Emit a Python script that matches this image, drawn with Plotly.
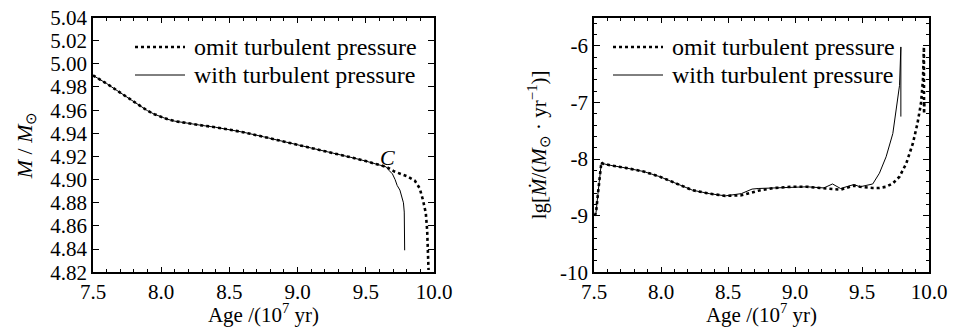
import plotly.graph_objects as go

# ---- Left panel: stellar mass vs age ----
age_omit_m = [7.50, 7.56, 7.60, 7.65, 7.70, 7.75, 7.80, 7.90, 7.95, 8.00, 8.05, 8.10, 8.20, 8.30, 8.40, 8.50,
              8.60, 8.75, 8.90, 9.00, 9.10, 9.25, 9.40, 9.50, 9.60, 9.65, 9.71, 9.80, 9.86,
              9.895, 9.92, 9.94, 9.95, 9.956, 9.958, 9.96]
mass_omit = [4.990, 4.986, 4.983, 4.979, 4.975, 4.971, 4.967, 4.9595, 4.9565, 4.9540, 4.9520, 4.9505, 4.9485,
             4.9468, 4.9452, 4.943,
             4.941, 4.937, 4.933, 4.930, 4.927, 4.923, 4.919, 4.916, 4.913, 4.911, 4.907, 4.903, 4.899,
             4.8925, 4.882, 4.871, 4.856, 4.836, 4.826, 4.822]

age_with_m = [7.50, 7.56, 7.60, 7.65, 7.70, 7.75, 7.80, 7.90, 7.95, 8.00, 8.05, 8.10, 8.20, 8.30, 8.40, 8.50,
              8.60, 8.75, 8.90, 9.00, 9.10, 9.25, 9.40, 9.50, 9.60, 9.65, 9.67, 9.695, 9.715,
              9.73, 9.75, 9.765, 9.776, 9.782, 9.785, 9.785]
mass_with = [4.990, 4.986, 4.983, 4.979, 4.975, 4.971, 4.967, 4.9595, 4.9565, 4.9540, 4.9520, 4.9505, 4.9485,
             4.9468, 4.9452, 4.943,
             4.941, 4.937, 4.933, 4.930, 4.927, 4.923, 4.919, 4.916, 4.913, 4.911, 4.908, 4.905, 4.900,
             4.895, 4.891, 4.885, 4.880, 4.872, 4.860, 4.839]

# ---- Right panel: lg mass-loss rate vs age ----
age_omit_r = [7.505, 7.515, 7.53, 7.545, 7.555, 7.565, 7.62, 7.745, 7.87, 7.99, 8.11, 8.235, 8.36,
              8.48, 8.60, 8.68, 8.725, 8.85, 8.97, 9.09, 9.215, 9.28, 9.34, 9.44, 9.485, 9.58,
              9.63, 9.68, 9.73, 9.78, 9.83, 9.88, 9.914, 9.94, 9.955, 9.962, 9.963, 9.965, 9.966]
rate_omit = [-9.00, -8.95, -8.60, -8.25, -8.06, -8.08, -8.11, -8.16, -8.22, -8.31, -8.43, -8.55, -8.61,
             -8.65, -8.64, -8.59, -8.56, -8.51, -8.49, -8.49, -8.51, -8.52, -8.54, -8.47, -8.49, -8.51,
             -8.51, -8.49, -8.43, -8.31, -8.08, -7.72, -7.37, -7.02, -6.60, -6.02, -7.20, -6.40, -7.00]

age_with_r = [7.505, 7.515, 7.53, 7.545, 7.555, 7.565, 7.62, 7.745, 7.87, 7.99, 8.11, 8.235, 8.36,
              8.48, 8.60, 8.68, 8.725, 8.85, 8.97, 9.09, 9.215, 9.28, 9.34, 9.44, 9.485, 9.58,
              9.63, 9.68, 9.73, 9.767, 9.78, 9.79, 9.79]
rate_with = [-9.00, -8.95, -8.60, -8.25, -8.06, -8.08, -8.11, -8.16, -8.22, -8.31, -8.43, -8.55, -8.61,
             -8.65, -8.61, -8.53, -8.52, -8.51, -8.49, -8.49, -8.51, -8.44, -8.52, -8.45, -8.49, -8.44,
             -8.25, -7.96, -7.55, -6.96, -6.70, -6.02, -7.25]

series_names = ["omit turbulent pressure", "with turbulent pressure"]
x_ticks = [7.5, 8.0, 8.5, 9.0, 9.5, 10.0]
x_ticktext = ["7.5", "8.0", "8.5", "9.0", "9.5", "10.0"]
y1_ticks = [4.82, 4.84, 4.86, 4.88, 4.90, 4.92, 4.94, 4.96, 4.98, 5.00, 5.02, 5.04]
y1_ticktext = ["4.82", "4.84", "4.86", "4.88", "4.90", "4.92", "4.94", "4.96", "4.98", "5.00", "5.02", "5.04"]
y2_ticks = [-10, -9, -8, -7, -6]
y2_ticktext = ["-10", "-9", "-8", "-7", "-6"]

FONT = "Liberation Serif"
dot_style = dict(color="black", width=2.6, dash="dot")
solid_style = dict(color="black", width=1)
styles = [dot_style, solid_style]

# the page body adds an 8px offset; the figure is sized to end at the window's edges
W, H = 949, 319

fig = go.Figure()
fig.add_trace(go.Scatter(x=age_omit_m, y=mass_omit, mode="lines", line=dot_style,
                         name=series_names[0], xaxis="x", yaxis="y", showlegend=False))
fig.add_trace(go.Scatter(x=age_with_m, y=mass_with, mode="lines", line=solid_style,
                         name=series_names[1], xaxis="x", yaxis="y", showlegend=False))
fig.add_trace(go.Scatter(x=age_omit_r, y=rate_omit, mode="lines", line=dot_style,
                         name=series_names[0], xaxis="x2", yaxis="y2", showlegend=False))
fig.add_trace(go.Scatter(x=age_with_r, y=rate_with, mode="lines", line=solid_style,
                         name=series_names[1], xaxis="x2", yaxis="y2", showlegend=False))

common = dict(showline=True, linecolor="black", linewidth=1.5, mirror="allticks",
              ticks="inside", ticklen=6, tickwidth=1.3, tickcolor="black",
              showgrid=False, zeroline=False, automargin=False, ticklabeloverflow="allow",
              tickfont=dict(family=FONT, size=21, color="black"))

minor_x = dict(ticks="inside", ticklen=3.5, tickwidth=1.2, tickcolor="black",
               tickmode="linear", tick0=7.5, dtick=0.1, showgrid=False)

xcommon = dict(common, range=[7.5, 10.0], tickmode="array", tickvals=x_ticks, ticktext=x_ticktext,
               minor=minor_x,
               title=dict(text="Age /(10<sup>7</sup> yr)", font=dict(family=FONT, size=21, color="black"),
                          standoff=4))

# legends (line sample + label) drawn in paper coordinates
legend_rows_px = [39, 67]
legend_x_px = [(127, 177, 184), (605, 655, 662)]
shapes = []
annotations = []
for x0, x1, xt in legend_x_px:
    for yp, st, nm in zip(legend_rows_px, styles, series_names):
        yy = 1 - yp / H
        shapes.append(dict(type="line", xref="paper", yref="paper", x0=x0 / W, x1=x1 / W, y0=yy, y1=yy,
                           line=st))
        annotations.append(dict(xref="paper", yref="paper", x=xt / W, y=yy, xanchor="left", yanchor="middle",
                                text=nm, showarrow=False, font=dict(family=FONT, size=24, color="black")))

annotations.append(dict(x=9.66, y=4.919, xref="x", yref="y", text="<i>C</i>", showarrow=False,
                        font=dict(family=FONT, size=22, color="black")))

ydom = [1 - 264.3 / H, 1 - 9.5 / H]

fig.update_layout(
    width=W, height=H,
    margin=dict(l=0, r=0, t=0, b=0),
    paper_bgcolor="white", plot_bgcolor="white",
    font=dict(family=FONT, color="black"),
    showlegend=False,
    xaxis=dict(xcommon, domain=[85 / W, 426 / W], anchor="y"),
    yaxis=dict(common, domain=ydom, anchor="x", range=[4.82, 5.04],
               tickmode="array", tickvals=y1_ticks, ticktext=y1_ticktext,
               title=dict(text="<i>M</i> / <i>M</i><sub>⊙</sub>",
                          font=dict(family=FONT, size=22, color="black"), standoff=12)),
    xaxis2=dict(xcommon, domain=[586 / W, 921 / W], anchor="y2"),
    yaxis2=dict(common, domain=ydom, anchor="x2", range=[-10, -5.5],
                tickmode="array", tickvals=y2_ticks, ticktext=y2_ticktext,
                minor=dict(ticks="inside", ticklen=3.5, tickwidth=1.2, tickcolor="black",
                           tickmode="linear", tick0=-10, dtick=0.2, showgrid=False),
                title=dict(text="lg[<i>Ṁ</i>/(<i>M</i><sub>⊙</sub> · yr<sup>−1</sup>)]",
                           font=dict(family=FONT, size=21, color="black"), standoff=8)),
    shapes=shapes,
    annotations=annotations,
)

fig.write_html("out.html")
